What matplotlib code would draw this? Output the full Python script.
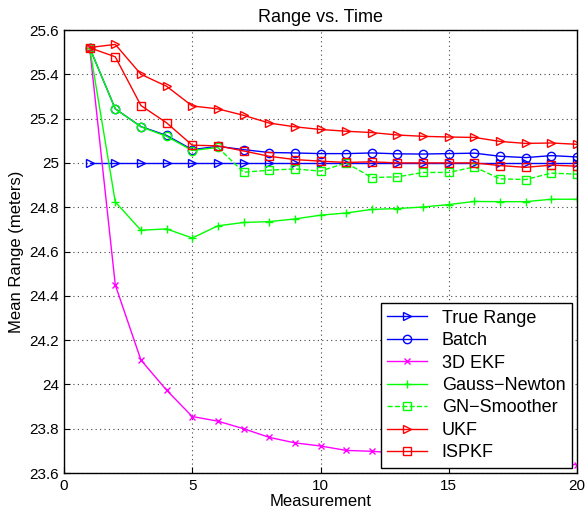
import numpy as np
import matplotlib
matplotlib.use("Agg")
import matplotlib.pyplot as plt

plt.rcParams['font.family'] = ['Liberation Sans', 'DejaVu Sans']

n = np.arange(1, 21)

true_range = [25.0] * 20
batch = [25.52, 25.244, 25.164, 25.124, 25.06, 25.075, 25.06, 25.047, 25.045, 25.042,
         25.042, 25.045, 25.041, 25.04, 25.042, 25.044, 25.03, 25.024, 25.033, 25.027]
ekf3d = [25.52, 24.449, 24.11, 23.974, 23.855, 23.834, 23.80, 23.761, 23.736, 23.722,
         23.702, 23.698, 23.69, 23.682, 23.675, 23.667, 23.66, 23.652, 23.645, 23.637]
gauss_newton = [25.52, 24.824, 24.696, 24.702, 24.661, 24.716, 24.731, 24.735, 24.747, 24.764,
                24.774, 24.79, 24.794, 24.801, 24.812, 24.826, 24.825, 24.825, 24.836, 24.836]
# early part of the smoother, drawn solid with circles
gn_early_x = [1, 2, 3, 4, 5, 6]
gn_early = [25.52, 25.244, 25.163, 25.12, 25.056, 25.07]
gn_smooth_x = np.arange(6, 21)
gn_smooth = [25.07, 24.958, 24.967, 24.973, 24.963, 25.0, 24.934, 24.937, 24.957, 24.957,
             24.982, 24.928, 24.925, 24.954, 24.949]
ukf = [25.521, 25.535, 25.40, 25.346, 25.257, 25.244, 25.215, 25.18, 25.163, 25.151,
       25.143, 25.137, 25.126, 25.12, 25.117, 25.115, 25.097, 25.088, 25.09, 25.084]
ispkf = [25.52, 25.479, 25.259, 25.181, 25.08, 25.077, 25.054, 25.03, 25.015, 25.008,
         25.002, 25.005, 25.0, 25.0, 25.0, 25.0, 24.988, 24.98, 24.99, 24.985]

fig = plt.figure(figsize=(5.87, 5.23), dpi=100)
ax = fig.add_axes([0.109, 0.0956, 0.874, 0.847])

ms = 6
ax.plot(n, true_range, color='b', marker='>', mfc='none', ms=ms, lw=1, label='True Range')
ax.plot(n, batch, color='b', marker='o', mfc='none', ms=ms, lw=1, label='Batch')
ax.plot(n, ekf3d, color='#ff00ff', marker='x', ms=4, lw=1, label='3D EKF')
ax.plot(n, gauss_newton, color='#00ff00', marker='+', ms=ms, lw=1, label='Gauss\u2212Newton')
ax.plot(gn_early_x, gn_early, color='#00ff00', marker='o', mfc='none', ms=ms, lw=1)
ax.plot(gn_smooth_x, gn_smooth, color='#00ff00', ls='--', marker='s', mfc='none', ms=ms, lw=1,
        markevery=list(range(1, len(gn_smooth))), label='GN\u2212Smoother')
ax.plot(n, ukf, color='r', marker='>', mfc='none', ms=ms, lw=1, label='UKF')
ax.plot(n, ispkf, color='r', marker='s', mfc='none', ms=ms, lw=1, label='ISPKF')

ax.set_xlim(0, 20)
ax.set_ylim(23.6, 25.6)
ax.set_xticks([0, 5, 10, 15, 20])
ax.set_yticks(np.arange(23.6, 25.61, 0.2))
ax.set_yticklabels(['23.6', '23.8', '24', '24.2', '24.4', '24.6', '24.8', '25', '25.2', '25.4', '25.6'])
ax.tick_params(direction='in', labelsize=11, length=4)
ax.tick_params(axis='x', pad=4)
ax.grid(True, ls=(0, (1, 3)), color='#444444', lw=0.8)
for s in ax.spines.values():
    s.set_linewidth(1.0)

ax.set_title('Range vs. Time', fontsize=13)
ax.set_xlabel('Measurement', fontsize=12, labelpad=1)
ax.set_ylabel('Mean Range (meters)', fontsize=12)

leg = ax.legend(loc='lower right', fontsize=13, fancybox=False, framealpha=1,
                edgecolor='black', borderaxespad=0.3, handlelength=2.2, labelspacing=0.3,
                borderpad=0.35)
leg.get_frame().set_linewidth(1.0)

plt.savefig("out.png", dpi=100)
